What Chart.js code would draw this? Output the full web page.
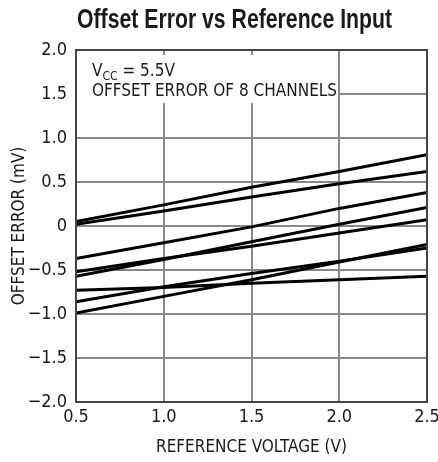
<!DOCTYPE html>
<html>
<head>
<meta charset="utf-8">
<script src="https://cdn.jsdelivr.net/npm/chart.js@4/dist/chart.umd.min.js"></script>
<style>
  html, body { margin: 0; padding: 0; background: #fff; }
  #wrap { width: 438px; height: 462px; }
</style>
</head>
<body>
<div id="wrap"><canvas id="chart" width="438" height="462"></canvas></div>
<script>
// reference voltage (V)
const refVoltage = [0.5, 1.0, 1.5, 2.0, 2.5];
// offset error of each channel (mV)
const ch1 = [0.05, 0.24, 0.44, 0.62, 0.81];
const ch2 = [0.02, 0.17, 0.33, 0.48, 0.62];
const ch3 = [-0.37, -0.19, -0.01, 0.20, 0.38];
const ch4 = [-0.57, -0.38, -0.18, 0.02, 0.21];
const ch5 = [-0.52, -0.37, -0.23, -0.08, 0.07];
const ch6 = [-0.73, -0.70, -0.65, -0.61, -0.57];
const ch7 = [-0.86, -0.69, -0.54, -0.40, -0.25];
const ch8 = [-0.99, -0.80, -0.61, -0.41, -0.21];
const channels = [ch1, ch2, ch3, ch4, ch5, ch6, ch7, ch8];

const titleText = 'Offset Error vs Reference Input';
const noteLine1 = 'V';
const noteSub = 'CC';
const noteRest = ' = 5.5V';
const noteLine2 = 'OFFSET ERROR OF 8 CHANNELS';

const narrow = '"DejaVu Sans Condensed", "Liberation Sans", sans-serif';

const datasets = channels.map((vals, i) => ({
    label: 'CH' + (i + 1),
    data: refVoltage.map((x, j) => ({ x: x, y: vals[j] })),
    borderColor: '#000',
    borderWidth: 3,
    pointRadius: 0,
    fill: false,
    tension: 0
}));

// titulo comprimido, recuadro de nota y marco
const extras = {
    id: 'extras',
    beforeDatasetsDraw(chart) {
        const ctx = chart.ctx;
        const a = chart.chartArea;
        ctx.save();
        ctx.fillStyle = '#fff';
        ctx.fillRect(a.left + 1, 55, 337 - a.left, 48);
        ctx.fillStyle = '#1a1a1a';
        ctx.textBaseline = 'alphabetic';
        ctx.font = '17px ' + narrow;
        let x = 92;
        ctx.fillText(noteLine1, x, 76);
        x += ctx.measureText(noteLine1).width;
        ctx.font = '12px ' + narrow;
        ctx.fillText(noteSub, x, 80);
        x += ctx.measureText(noteSub).width;
        ctx.font = '17px ' + narrow;
        ctx.fillText(noteRest, x, 76);
        ctx.fillText(noteLine2, 92, 96);
        ctx.restore();
    },
    afterDraw(chart) {
        const ctx = chart.ctx;
        const a = chart.chartArea;
        ctx.save();
        ctx.strokeStyle = '#444';
        ctx.lineWidth = 2;
        ctx.strokeRect(a.left, a.top, a.right - a.left, a.bottom - a.top);
        ctx.fillStyle = '#1a1a1a';
        ctx.font = 'bold 27px "Liberation Sans", Arial, sans-serif';
        ctx.textBaseline = 'alphabetic';
        const w = ctx.measureText(titleText).width;
        const k = 315 / w;
        ctx.translate(77, 28);
        ctx.scale(k, 1);
        ctx.fillText(titleText, 0, 0);
        ctx.restore();
    }
};

const ctx = document.getElementById('chart').getContext('2d');
new Chart(ctx, {
    type: 'line',
    data: { datasets: datasets },
    options: {
        responsive: false,
        animation: false,
        layout: { padding: { top: 50, right: 11, left: 0, bottom: 0 } },
        plugins: { legend: { display: false }, tooltip: { enabled: false }, title: { display: false } },
        scales: {
            x: {
                type: 'linear',
                min: 0.5,
                max: 2.5,
                ticks: {
                    stepSize: 0.5,
                    color: '#1a1a1a',
                    font: { family: narrow, size: 18 },
                    padding: 5,
                    maxRotation: 0,
                    callback: v => v.toFixed(1)
                },
                grid: { color: '#888', lineWidth: 2, drawTicks: false },
                border: { display: false },
                title: {
                    display: true,
                    text: 'REFERENCE VOLTAGE (V)',
                    color: '#1a1a1a',
                    font: { family: narrow, size: 17 },
                    padding: { top: 7 }
                },
                afterFit: s => { s.height = 60; s.paddingLeft = 0; s.paddingRight = 0; }
            },
            y: {
                min: -2,
                max: 2,
                ticks: {
                    stepSize: 0.5,
                    color: '#1a1a1a',
                    font: { family: narrow, size: 18 },
                    padding: 9,
                    callback: v => v === 0 ? '0' : v.toFixed(1).replace('-', '\u2212')
                },
                grid: { color: '#888', lineWidth: 2, drawTicks: false },
                border: { display: false },
                title: {
                    display: true,
                    text: 'OFFSET ERROR (mV)',
                    color: '#1a1a1a',
                    font: { family: narrow, size: 17 },
                    padding: { top: 9, bottom: 0 }
                },
                afterFit: s => { s.width = 76; s.paddingTop = 0; s.paddingBottom = 0; }
            }
        }
    },
    plugins: [extras]
});
</script>
</body>
</html>
